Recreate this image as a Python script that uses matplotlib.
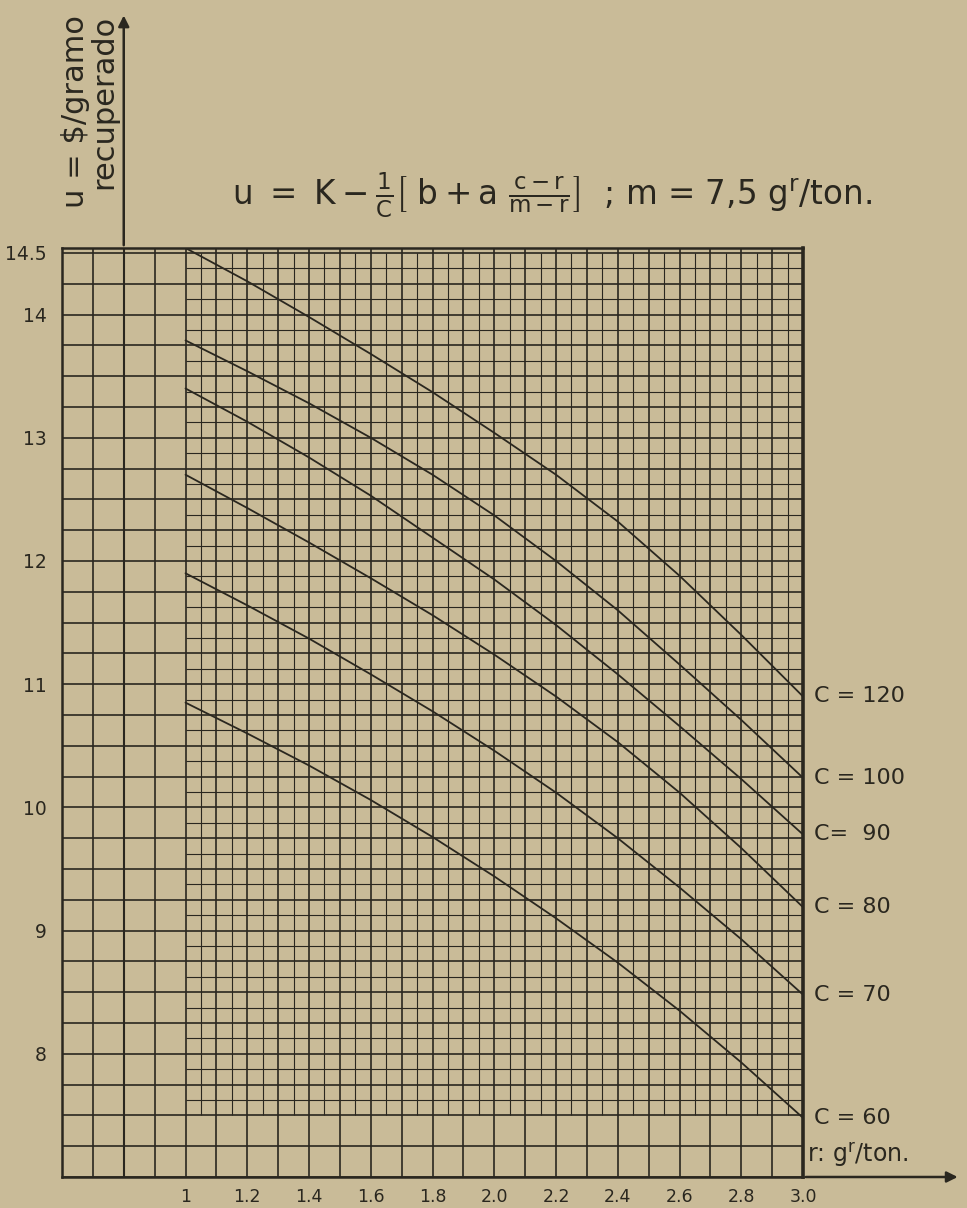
import numpy as np
import matplotlib
matplotlib.use("Agg")
import matplotlib.pyplot as plt

plt.rcParams["font.family"] = ["DejaVu Sans"]
plt.rcParams["mathtext.default"] = "regular"

# values
p = [1.0, 1.2, 1.4, 1.6, 1.8, 2.0, 2.2, 2.4, 2.6, 2.8, 3.0]
c_values = [120, 100, 90, 80, 70, 60]
u_c120 = [14.54, 14.27, 13.98, 13.68, 13.37, 13.04, 12.70, 12.32, 11.88, 11.40, 10.90]
u_c100 = [13.79, 13.54, 13.28, 13.00, 12.70, 12.37, 12.00, 11.60, 11.16, 10.71, 10.24]
u_c90 = [13.40, 13.13, 12.84, 12.53, 12.19, 11.85, 11.48, 11.08, 10.66, 10.23, 9.78]
u_c80 = [12.70, 12.43, 12.15, 11.86, 11.56, 11.24, 10.90, 10.53, 10.12, 9.67, 9.19]
u_c70 = [11.90, 11.64, 11.37, 11.08, 10.78, 10.46, 10.12, 9.75, 9.35, 8.93, 8.48]
u_c60 = [10.85, 10.60, 10.34, 10.06, 9.76, 9.44, 9.10, 8.74, 8.35, 7.93, 7.48]
curves = [u_c120, u_c100, u_c90, u_c80, u_c70, u_c60]
curve_labels = ["C = 120", "C = 100", "C=  90", "C = 80", "C = 70", "C = 60"]

x_ticks = [1.0, 1.2, 1.4, 1.6, 1.8, 2.0, 2.2, 2.4, 2.6, 2.8, 3.0]
x_ticklabels = ["1", "1.2", "1.4", "1.6", "1.8", "2.0", "2.2", "2.4", "2.6", "2.8", "3.0"]
y_ticks = [8, 9, 10, 11, 12, 13, 14, 14.5]
y_ticklabels = ["8", "9", "10", "11", "12", "13", "14", "14.5"]

PAPER = "#c9bb98"
INK = "#2a271f"

fig = plt.figure(figsize=(9.67, 12.08), dpi=100, facecolor=PAPER)
ax = fig.add_axes([62 / 967, 1 - 1177 / 1208, 741 / 967, 929 / 1208])
ax.set_facecolor(PAPER)
ax.set_xlim(0.6, 3.0)
ax.set_ylim(7.0, 14.54)

# graph paper: coarse grid everywhere, fine grid in the plotting zone
xc = np.round(np.arange(0.6, 3.0001, 0.1), 3)
yc = np.round(np.arange(7.0, 14.5001, 0.25), 3)
xf = np.round(np.arange(1.05, 3.0, 0.1), 3)
yf = np.round(np.arange(7.625, 14.5, 0.25), 3)
ax.vlines(xc, 7.0, 14.54, color=INK, lw=1.2, zorder=1)
ax.hlines(yc, 0.6, 3.0, color=INK, lw=1.2, zorder=1)
ax.vlines(xf, 7.5, 14.5, color=INK, lw=0.8, zorder=1)
ax.hlines(yf, 1.0, 3.0, color=INK, lw=0.8, zorder=1)
ax.vlines([0.8], 7.0, 14.54, color=INK, lw=1.5, zorder=2)

for s in ax.spines.values():
    s.set_color(INK)
    s.set_linewidth(1.8)
ax.spines["right"].set_linewidth(2.6)

# curves
for u, lab in zip(curves, curve_labels):
    ax.plot(p, u, color=INK, lw=1.3, zorder=3, solid_capstyle="round")
    ax.annotate(lab, xy=(p[-1], u[-1]), xytext=(8, 0), textcoords="offset points",
                ha="left", va="center", fontsize=16, color=INK, annotation_clip=False)

# ticks
ax.set_xticks(x_ticks)
ax.set_xticklabels(x_ticklabels, fontsize=12.5, color=INK)
ax.set_yticks(y_ticks)
ax.set_yticklabels(y_ticklabels, fontsize=13.5, color=INK)
ax.tick_params(length=0, pad=11)
ax.tick_params(axis="x", pad=8)

# axis arrows
ax.annotate("", xy=(0.8, 16.45), xytext=(0.8, 14.54),
            arrowprops=dict(arrowstyle="-|>", color=INK, lw=1.8, mutation_scale=16),
            annotation_clip=False)
ax.annotate("", xy=(3.51, 7.0), xytext=(3.0, 7.0),
            arrowprops=dict(arrowstyle="-|>", color=INK, lw=1.8, mutation_scale=16),
            annotation_clip=False)

# axis titles
fig.text(75 / 967, 1 - 15 / 1208, "u = $/gramo", rotation=90, ha="center", va="top",
         fontsize=22, color=INK)
fig.text(104 / 967, 1 - 15 / 1208, "recuperado", rotation=90, ha="center", va="top",
         fontsize=22, color=INK)
ax.annotate("r: g$^{r}$/ton.", xy=(3.0, 7.0), xytext=(3, 5), textcoords="offset points",
            ha="left", va="bottom", fontsize=17, color=INK, annotation_clip=False)

# formula
fig.text(232 / 967, 1 - 195 / 1208,
         r"$u\ =\ K - \frac{1}{C}\left[\ b + a\ \frac{c - r}{m - r}\right]$"
         + "  ; m = 7,5 g$^{r}$/ton.",
         ha="left", va="center", fontsize=23.5, color=INK)

fig.savefig("out.png", dpi=100, facecolor=PAPER)
